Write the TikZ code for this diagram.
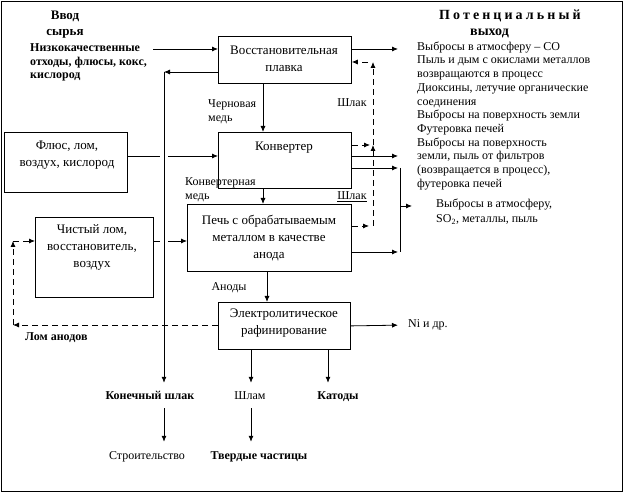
\documentclass[tikz,border=0pt]{standalone}
\usepackage{fontspec}
\setmainfont{Liberation Serif}
\newfontfamily\spacedfont[LetterSpace=22]{Liberation Serif}
\usetikzlibrary{arrows.meta, positioning}

\begin{document}
\begin{tikzpicture}[
    x=1pt, y=-1pt,
    box/.style={
        rectangle,
        draw=black,
        line width=0.8pt,
        anchor=north west,
        inner sep=0pt
    },
    boxtext/.style={
        align=center,
        inner sep=0pt,
        font=\fontsize{13}{17}\selectfont
    },
    txt/.style={
        align=left,
        inner sep=0pt,
        anchor=north west,
        font=\fontsize{12}{13.7}\selectfont
    },
    boldtxt/.style={txt, font=\fontsize{12}{13.5}\selectfont\bfseries},
    head/.style={
        align=center,
        inner sep=0pt,
        font=\fontsize{13}{16}\selectfont\bfseries
    },
    lbl/.style={
        inner sep=0pt,
        text height=8.5pt,
        text depth=2.5pt,
        font=\fontsize{12}{14.5}\selectfont
    },
    mlbl/.style={
        inner sep=0pt,
        align=left,
        anchor=north west,
        font=\fontsize{12}{14.5}\selectfont
    },
    boldlbl/.style={lbl, font=\fontsize{12}{14.5}\selectfont\bfseries},
    line/.style={
        draw,
        line width=0.8pt,
        -{Latex[length=6pt, width=5pt]}
    },
    dline/.style={line, dash pattern=on 6pt off 4pt}
]
\useasboundingbox (0,0) rectangle (625,494);
\draw[line width=0.8pt] (1,1) rectangle (622,491);

% Nodes
\node [box, minimum width=133, minimum height=47] (vosst) at (218,36) {};
\node [box, minimum width=133, minimum height=56] (konv) at (218,132) {};
\node [box, minimum width=164, minimum height=67] (pech) at (187,204) {};
\node [box, minimum width=132, minimum height=47] (elec) at (218,302) {};
\node [box, minimum width=123, minimum height=60] (flux) at (4,132) {};
\node [box, minimum width=118, minimum height=80] (clean) at (35,217) {};

\node [boxtext] (vossttxt) at (284,59) {Восстановительная\\плавка};
\node [boxtext] (konvtxt) at (284,148) {Конвертер};
\node [boxtext] (pechtxt) at (269,238) {Печь с обрабатываемым\\металлом в качестве\\анода};
\node [boxtext] (fluxtxt) at (67,155) {Флюс, лом,\\воздух, кислород};
\node [boxtext] (cleantxt) at (92,247) {Чистый лом,\\восстановитель,\\воздух};
\node [boxtext] (electxt) at (284,323) {Электролитическое\\рафинирование};

\node [head] (inhead) at (65,25) {Ввод\\сырья};
\node [head, align=left, anchor=north west, font=\fontsize{14}{16}\selectfont\bfseries] (outhead) at (439,9.5) {{\spacedfont Потенциальный}\\\hspace*{31pt}выход};
\node [boldtxt] (rawtxt) at (30,43.5) {Низкокачественные\\отходы, флюсы, кокс,\\кислород};
\node [txt] (outtxt) at (417,41.5) {Выбросы в атмосферу – CO\\Пыль и дым с окислами металлов\\возвращаются в процесс\\Диоксины, летучие органические\\соединения\\Выбросы на поверхность земли\\Футеровка печей\\Выбросы на поверхность\\земли, пыль от фильтров\\(возвращается в процесс),\\футеровка печей};
\node [txt] (so2txt) at (436,198.5) {Выбросы в атмосферу,\\[2pt]SO\textsubscript{2}, металлы, пыль};

\node [mlbl] (rawcu) at (208,99) {Черновая\\медь};
\node [lbl] (slag1) at (352,104) {Шлак};
\node [mlbl] (convcu) at (185,177) {Конвертерная\\медь};
\node [lbl] (slag2) at (352,197) {\underline{Шлак}};
\node [lbl] (anodes) at (229,288) {Аноды};
\node [lbl, anchor=west] (ni) at (408,325) {Ni и др.};
\node [boldlbl, anchor=west] (scrap) at (25,338) {Лом анодов};

\node [boldlbl] (finslag) at (150,397) {Конечный шлак};
\node [lbl] (sludge) at (250,397) {Шлам};
\node [boldlbl] (cath) at (338,397) {Катоды};
\node [lbl] (constr) at (147,457) {Строительство};
\node [boldlbl] (solids) at (259,457) {Твердые частицы};

\coordinate (rawin) at (153,49);
\coordinate (slagtop) at (164,72);
\coordinate (scrapa) at (13,325);
\coordinate (scrapb) at (13,241);
\coordinate (o1) at (398,49);
\coordinate (o2) at (398,156);
\coordinate (o3) at (398,168);
\coordinate (o4) at (398,252);
\coordinate (jn) at (400,206);
\coordinate (o5) at (412,206);
\coordinate (sl1) at (373,226);
\coordinate (sl2) at (373,145);
\coordinate (sl3) at (373,62);

% Edges
\path [line] (rawin) -- (vosst.west |- rawin);
\path [line] (flux.east |- 0,156) -- (konv.west |- 0,156);
\path [line] (clean.east |- 0,241) -- (pech.west |- 0,241);
\path [line, shorten >=8.5pt, preaction={draw=white, line width=8pt, -}] (slagtop) -- (slagtop |- finslag.north);
\path [line] (vosst.west |- slagtop) -- (slagtop);

\path [dline] (elec.west |- scrapa) -- (scrapa);
\path [dline] (scrapa) -- (scrapb);
\path [dline] (scrapb) -- (clean.west |- scrapb);

\path [line] (vosst.south -| 263,0) -- (konv.north -| 263,0);
\path [line] (konv.south -| 263,0) -- (pech.north -| 263,0);
\path [line] (pech.south -| 267,0) -- (elec.north -| 267,0);
\path [line, shorten >=8.5pt] (elec.south -| 251,0) -- (sludge.north -| 251,0);
\path [line, shorten >=8.5pt] (elec.south -| 328,0) -- (cath.north -| 328,0);
\path [line, shorten <=5.5pt, shorten >=9.5pt] (finslag.south -| 164,0) -- (constr.north -| 164,0);
\path [line, shorten <=5.5pt, shorten >=9.5pt] (sludge.south -| 251,0) -- (solids.north -| 251,0);

\path [line] (vosst.east |- o1) -- (o1);
\path [dline, shorten >=4pt] (pech.east |- sl1) -- (sl1);
\path [dline] (sl1) -- (sl2);
\path [dline, shorten >=3pt] (konv.east |- sl2) -- (sl2);
\path [dline] (sl2) -- (sl3);
\path [dline, shorten <=5pt] (sl3) -- (vosst.east |- sl3);
\path [line] (konv.east |- o2) -- (o2);
\path [line] (konv.east |- o3) -- (o3);
\path [line] (pech.east |- o4) -- (o4);
\draw [line width=0.8pt] (o3 -| jn) -- (o4 -| jn);
\path [line] (jn) -- (o5);
\path [line, shorten >=10pt] (elec.east) -- (ni.west);

\end{tikzpicture}
\end{document}
